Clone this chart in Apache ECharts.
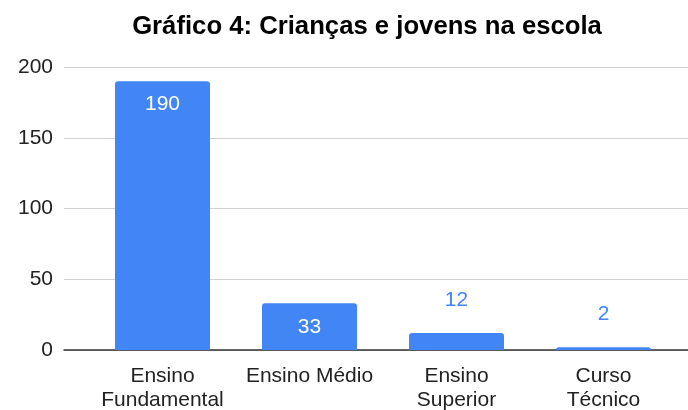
<!DOCTYPE html>
<html>
<head>
<meta charset="utf-8">
<script src="https://cdn.jsdelivr.net/npm/echarts@6/dist/echarts.min.js"></script>
<style>
  html, body { margin: 0; padding: 0; background: #fff; }
  #chart { width: 688px; height: 410px; }
</style>
</head>
<body>
<div id="chart"></div>
<script>
const categories = ['Ensino\nFundamental', 'Ensino Médio', 'Ensino\nSuperior', 'Curso\nTécnico'];
const values = [190, 33, 12, 2];
const yTicks = [0, 50, 100, 150, 200];

const blue = '#4285f4';
const font = 'Liberation Sans, Arial, sans-serif';

// tall bars get the label inside, short ones above
const barData = values.map(v => {
  const inside = v > 20;
  return {
    value: v,
    label: inside
      ? { position: 'insideTop', distance: 13, color: '#fff' }
      : { position: 'top', distance: 22, color: blue }
  };
});

const chart = echarts.init(document.getElementById('chart'));
chart.setOption({
  animation: false,
  title: {
    text: 'Gráfico 4: Crianças e jovens na escola',
    left: 362,
    top: 9,
    textAlign: 'center',
    textStyle: { fontFamily: font, fontSize: 25.7, fontWeight: 'bold', color: '#000' }
  },
  grid: [
    // background grid: y labels, gridlines and base line across the full width
    { left: 64, right: 0, top: 67, bottom: 60, outerBoundsMode: 'none' },
    // bars
    { left: 89, right: 11, top: 67, bottom: 60, outerBoundsMode: 'none' }
  ],
  xAxis: [
    {
      gridIndex: 0,
      type: 'category',
      data: [''],
      axisLine: { show: true, lineStyle: { color: '#333', width: 1.5 } },
      axisTick: { show: false },
      axisLabel: { show: false }
    },
    {
      gridIndex: 1,
      type: 'category',
      data: categories,
      axisLine: { show: false },
      axisTick: { show: false },
      axisLabel: {
        margin: 14,
        interval: 0,
        color: '#222',
        fontFamily: font,
        fontSize: 21,
        lineHeight: 24
      }
    }
  ],
  yAxis: [
    {
      gridIndex: 0,
      type: 'value',
      min: yTicks[0],
      max: yTicks[yTicks.length - 1],
      interval: 50,
      axisLine: { show: false },
      axisTick: { show: false },
      axisLabel: { margin: 11, color: '#222', fontFamily: font, fontSize: 21 },
      splitLine: { lineStyle: { color: '#d0d0d0', width: 1 } }
    },
    {
      gridIndex: 1,
      type: 'value',
      min: yTicks[0],
      max: yTicks[yTicks.length - 1],
      interval: 50,
      axisLine: { show: false },
      axisTick: { show: false },
      axisLabel: { show: false },
      splitLine: { show: false }
    }
  ],
  series: [{
    type: 'bar',
    xAxisIndex: 1,
    yAxisIndex: 1,
    data: barData,
    barWidth: 95,
    itemStyle: { color: blue, borderRadius: [3, 3, 0, 0] },
    label: { show: true, fontFamily: font, fontSize: 21 }
  }]
});
</script>
</body>
</html>
